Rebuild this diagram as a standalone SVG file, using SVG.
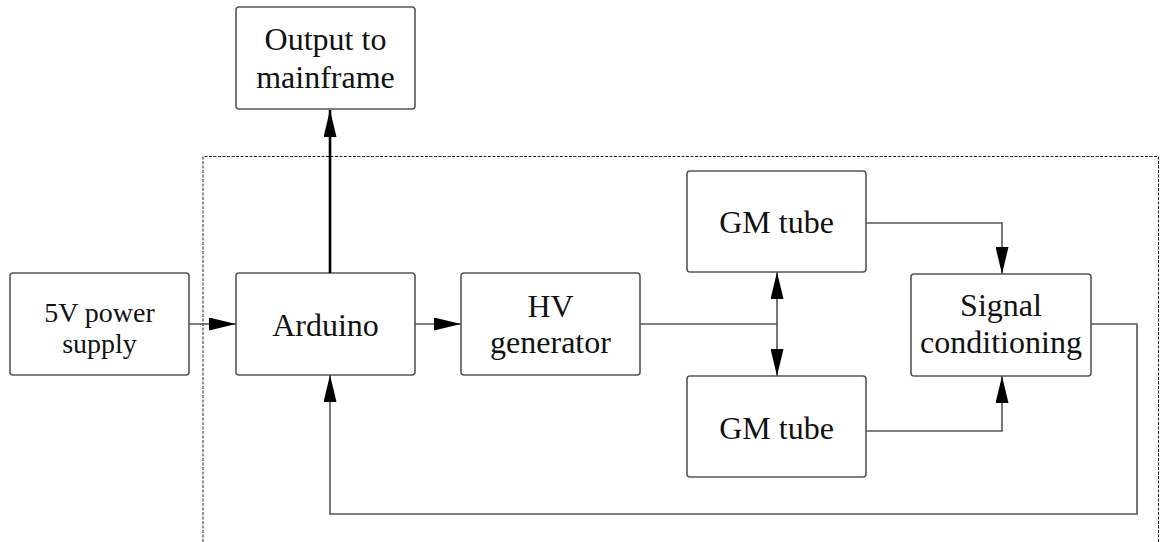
<svg xmlns="http://www.w3.org/2000/svg" width="1161" height="542" viewBox="0 0 1161 542">
<style>
.box{fill:#fff;stroke:#555;stroke-width:1.6}
.t{font-family:"Liberation Serif","Times New Roman",serif;font-size:32px;fill:#111;text-anchor:middle}
.s{font-size:28px}
.c{fill:none;stroke:#555;stroke-width:1.6}
.k{fill:none;stroke:#000;stroke-width:2.6}
</style>
<defs>
<marker id="ah" markerUnits="userSpaceOnUse" markerWidth="27" markerHeight="13" refX="27" refY="6.5" orient="auto-start-reverse" viewBox="0 0 27 13">
<path d="M0,0 L27,6.5 L0,13 z" fill="#000"/>
</marker>
</defs>
<rect width="1161" height="542" fill="#fff"/>
<path d="M203,542 V156.5 H1158.5 V542" fill="none" stroke="#222" stroke-width="1" stroke-dasharray="3,1.5"/>
<g id="output"><rect class="box" x="236" y="7" width="179" height="102" rx="3"/><text class="t" x="325.5" y="50">Output to</text><text class="t" x="325.5" y="88">mainframe</text></g>
<g id="power"><rect class="box" x="10" y="273" width="179" height="102" rx="3"/><text class="t s" x="99.5" y="322">5V power</text><text class="t s" x="99.5" y="353">supply</text></g>
<g id="arduino"><rect class="box" x="236" y="273" width="179" height="102" rx="3"/><text class="t" x="325.5" y="336">Arduino</text></g>
<g id="hv"><rect class="box" x="461" y="273" width="179" height="102" rx="3"/><text class="t" x="550.5" y="317">HV</text><text class="t" x="550.5" y="353">generator</text></g>
<g id="gm1"><rect class="box" x="687" y="171" width="179" height="101" rx="3"/><text class="t" x="776.5" y="233">GM tube</text></g>
<g id="gm2"><rect class="box" x="687" y="376" width="179" height="101" rx="3"/><text class="t" x="776.5" y="439">GM tube</text></g>
<g id="signal"><rect class="box" x="911" y="274" width="180" height="102" rx="3"/><text class="t" x="1001" y="316">Signal</text><text class="t" x="1001" y="353">conditioning</text></g>
<g id="connectors">
<path class="k" d="M330,273 V110" marker-end="url(#ah)"/>
<path class="c" d="M189,324 H236" marker-end="url(#ah)"/>
<path class="c" d="M415,324 H461" marker-end="url(#ah)"/>
<path class="c" d="M640,324 H777"/>
<path class="c" d="M777,272 V376" marker-start="url(#ah)" marker-end="url(#ah)"/>
<path class="c" d="M866,223 H1002 V274" marker-end="url(#ah)"/>
<path class="c" d="M866,431 H1002 V376" marker-end="url(#ah)"/>
<path class="c" d="M1091,324 H1137 V514 H330 V375" marker-end="url(#ah)"/>
</g>
</svg>
